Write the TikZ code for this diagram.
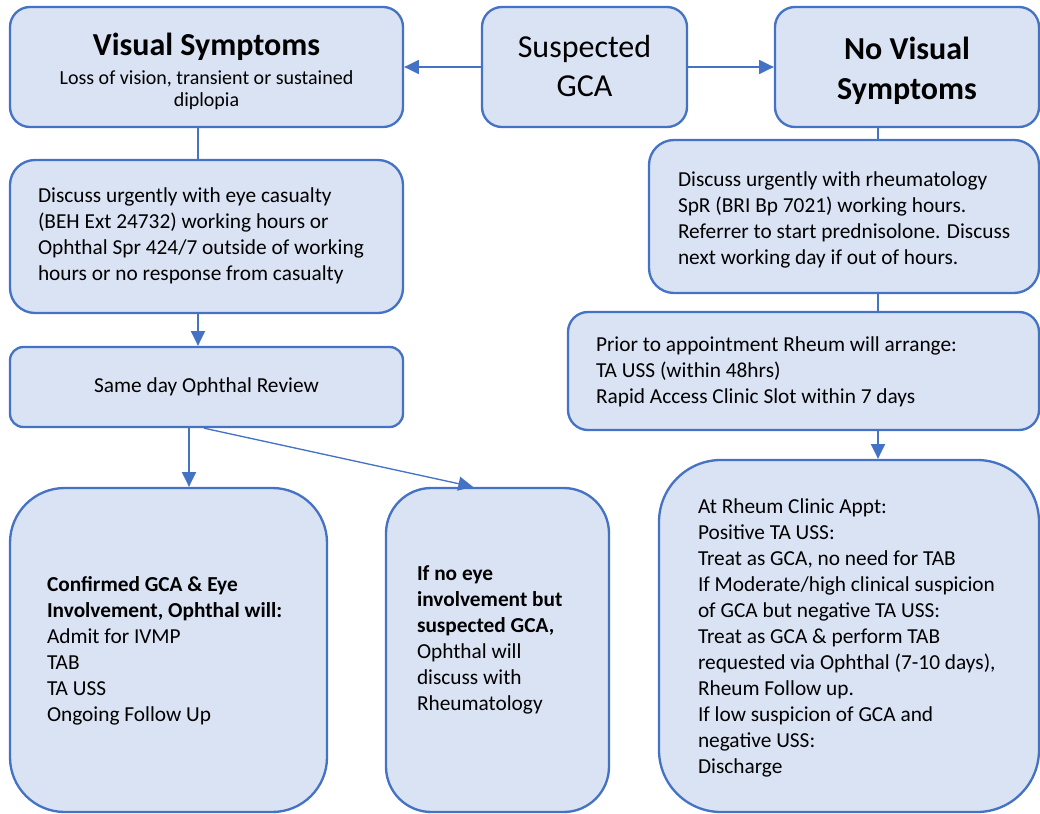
\documentclass[tikz,border=0pt]{standalone}
\usepackage{fontspec}
\setmainfont{Carlito}
\usetikzlibrary{arrows.meta}
\definecolor{boxfill}{HTML}{DAE3F3}
\definecolor{boxline}{HTML}{4472C4}
\newcommand{\lblock}[2]{\makebox[#1][l]{\begin{tabular}{@{}l@{}}#2\end{tabular}}}
\newcommand{\cblock}[1]{\begin{tabular}{@{}c@{}}#1\end{tabular}}
\newcommand{\padtop}[2]{\raisebox{0pt}[\dimexpr\height+#1\relax][\depth]{#2}}
\newcommand{\padbot}[2]{\raisebox{0pt}[\height][\dimexpr\depth+#1\relax]{#2}}
\begin{document}
\begin{tikzpicture}[x=0.75pt,y=-0.75pt,
  box/.style={draw=boxline, fill=boxfill, line width=1.75pt, inner sep=0pt, text=black},
  body/.style={font=\fontsize{16}{19.5}\selectfont},
  conn/.style={draw=boxline, line width=1pt},
  arr/.style={conn, -{Triangle[length=11pt,width=10.5pt]}}
]
\useasboundingbox (0,0) rectangle (1040,814);
\node[box, rounded corners=15pt, minimum width=294.75pt, minimum height=90pt, font=\fontsize{15}{16.5}\selectfont] (vis) at (206.5,67)
  {\padtop{9pt}{\cblock{{\fontsize{24}{29}\selectfont\bfseries Visual Symptoms}\\[5pt] Loss of vision, transient or sustained\\ diplopia}}};
\node[box, rounded corners=15pt, minimum width=153.75pt, minimum height=90pt, font=\fontsize{24}{29}\selectfont] (sus) at (584.5,67)
  {\padtop{3.5pt}{\cblock{Suspected\\GCA}}};
\node[box, rounded corners=15pt, minimum width=198pt, minimum height=90pt, font=\fontsize{24}{30}\selectfont\bfseries] (novis) at (907,67)
  {\padtop{6pt}{\cblock{No Visual\\Symptoms}}};
\node[box, body, rounded corners=18.75pt, minimum width=294.75pt, minimum height=114.75pt] (eye) at (206.5,236.5)
  {\lblock{252.75pt}{Discuss urgently with eye casualty\\(BEH Ext 24732) working hours or\\Ophthal Spr 424/7 outside of working\\hours or no response from casualty}};
\node[box, body, rounded corners=18.75pt, minimum width=292.5pt, minimum height=114.75pt] (rdisc) at (844,216.5)
  {\padtop{6pt}{\lblock{249pt}{Discuss urgently with rheumatology\\SpR (BRI Bp 7021) working hours.\\Referrer to start prednisolone. Discuss\\next working day if out of hours.}}};
\node[box, body, rounded corners=10pt, minimum width=294.75pt, minimum height=60pt] (same) at (206.5,387)
  {Same day Ophthal Review};
\node[box, body, rounded corners=15pt, minimum width=353.25pt, minimum height=88.5pt] (prior) at (803.5,371)
  {\padtop{2.5pt}{\lblock{311.25pt}{Prior to appointment Rheum will arrange:\\TA USS (within 48hrs)\\Rapid Access Clinic Slot within 7 days}}};
\node[box, body, rounded corners=41pt, minimum width=237.75pt, minimum height=243pt] (conf) at (168.5,650)
  {\padtop{2pt}{\lblock{182.25pt}{\textbf{Confirmed GCA \& Eye}\\\textbf{Involvement, Ophthal will:}\\Admit for IVMP\\TAB\\TA USS\\Ongoing Follow Up}}};
\node[box, body, rounded corners=34pt, minimum width=167.25pt, minimum height=243pt] (noeye) at (497.5,650)
  {\padbot{14pt}{\lblock{120.75pt}{\textbf{If no eye}\\\textbf{involvement but}\\\textbf{suspected GCA,}\\Ophthal will\\discuss with\\Rheumatology}}};
\node[box, body, rounded corners=46.5pt, minimum width=285pt, minimum height=264pt] (clinic) at (849,636)
  {\padtop{3pt}{\lblock{226.5pt}{At Rheum Clinic Appt:\\Positive TA USS:\\Treat as GCA, no need for TAB\\If Moderate/high clinical suspicion\\of GCA but negative TA USS:\\Treat as GCA \& perform TAB\\requested via Ophthal (7-10 days),\\Rheum Follow up.\\If low suspicion of GCA and\\negative USS:\\Discharge}}};
\draw[arr] (sus.west) -- (vis.east);
\draw[arr] (sus.east) -- (novis.west);
\draw[conn] ([xshift=-6.375pt]vis.south) -- ([xshift=-6.375pt]eye.north);
\draw[arr] ([xshift=-6.375pt]eye.south) -- ([xshift=-6.375pt]same.north);
\draw[arr] ([xshift=-13.125pt]same.south) -- ([xshift=15.375pt]conf.north);
\draw[arr] ([xshift=-1.875pt]same.south) -- ([xshift=-18.375pt]noeye.north);
\draw[conn] ([xshift=-21.75pt]novis.south) -- ([xshift=25.5pt]rdisc.north);
\draw[conn] ([xshift=25.5pt]rdisc.south) -- ([xshift=55.875pt]prior.north);
\draw[arr] ([xshift=55.875pt]prior.south) -- ([xshift=21.75pt]clinic.north);
\end{tikzpicture}
\end{document}
